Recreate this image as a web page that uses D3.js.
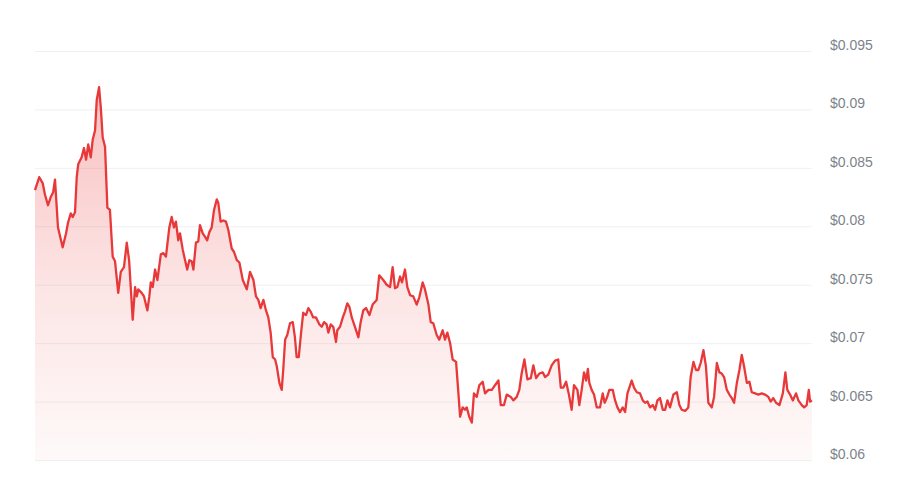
<!DOCTYPE html>
<html>
<head>
<meta charset="utf-8">
<script src="https://d3js.org/d3.v7.min.js"></script>
<style>
  body {
    margin: 0;
    background: #fff;
  }

  .grid line {
    stroke: #eff0f2;
  }

  .grid .domain {
    stroke: none;
  }

  .price-label {
    font-family: "Liberation Sans", Arial, sans-serif;
    font-size: 14px;
    fill: #7d838b;
  }
</style>
</head>
<body>
<script>
// price history (day of year, USD)
const days = [
  0.0, 2.0, 3.6, 4.7, 6.1, 7.4, 8.5, 9.4, 10.8, 13.0, 14.6, 15.5, 16.8, 17.7, 18.8, 19.6,
  20.3, 21.9, 23.0, 24.0, 25.0, 26.2, 27.1, 28.2, 29.0, 30.1, 30.9, 31.8, 32.9, 34.0, 35.2,
  36.5, 37.6, 39.1, 40.3, 41.8, 43.1, 44.2, 45.9, 47.0, 47.8, 48.5, 50.1, 51.2, 52.8, 53.7,
  54.4, 55.3, 56.4, 57.5, 59.1, 60.3, 61.5, 63.1, 64.2, 65.3, 66.2, 67.3, 68.1, 69.4, 70.5,
  71.5, 72.5, 73.6, 74.4, 75.6, 76.7, 77.5, 78.8, 79.9, 80.9, 81.9, 83.0, 84.1, 85.4, 86.1,
  87.2, 88.5, 89.7, 90.8, 92.4, 93.5, 94.8, 96.0, 97.6, 99.5, 101.0, 102.6, 103.8, 104.9,
  106.0, 107.3, 108.5, 109.6, 110.7, 111.7, 112.8, 113.6, 114.8, 115.9, 116.6, 117.5, 118.5,
  119.8, 121.1, 122.1, 122.9, 123.9, 125.0, 126.0, 127.3, 128.4, 129.5, 130.7, 132.0, 133.6,
  134.7, 135.8, 137.0, 137.8, 138.9, 140.1, 141.4, 142.0, 143.3, 144.6, 145.6, 146.7, 147.7,
  148.8, 150.3, 151.9, 153.0, 154.2, 155.5, 157.1, 158.6, 160.5, 161.7, 163.6, 165.2, 166.8,
  168.0, 169.1, 170.2, 171.5, 172.4, 173.8, 174.9, 176.2, 177.7, 179.3, 180.5, 182.1, 183.2,
  184.8, 185.9, 187.1, 188.7, 189.9, 191.5, 192.6, 193.7, 195.0, 196.2, 197.8, 198.9, 199.7,
  200.9, 202.0, 202.8, 204.0, 205.2, 206.2, 207.5, 208.7, 210.3, 211.4, 213.0, 214.6, 216.1,
  217.7, 218.8, 220.3, 221.6, 223.5, 224.7, 226.3, 227.5, 228.6, 229.9, 231.3, 232.9, 234.1,
  235.4, 236.9, 238.5, 239.6, 241.1, 242.7, 244.3, 245.8, 247.0, 248.2, 249.5, 250.7, 252.1,
  253.2, 254.8, 255.7, 256.8, 257.9, 258.9, 259.7, 260.4, 261.5, 262.6, 263.9, 265.4, 266.7,
  267.6, 268.6, 269.8, 271.4, 272.5, 273.6, 274.8, 276.1, 277.2, 278.3, 279.2, 280.3, 281.4,
  282.7, 284.2, 285.5, 286.6, 287.7, 288.9, 290.2, 291.3, 292.4, 293.6, 294.9, 296.0, 297.1,
  298.3, 299.9, 301.5, 302.7, 303.8, 305.4, 306.9, 308.0, 309.3, 310.5, 311.6, 312.7, 314.0,
  315.2, 316.3, 317.9, 319.0, 320.3, 321.5, 322.6, 323.7, 325.0, 326.2, 327.3, 328.4, 329.7,
  330.9, 332.0, 333.1, 334.4, 335.6, 336.7, 338.3, 339.8, 341.4, 342.9, 344.5, 345.6, 346.8,
  348.1, 349.7, 351.3, 352.5, 353.4, 354.7, 356.0, 357.5, 358.6, 360.2, 361.3, 362.5, 363.5,
  364.1, 365.0
];

const prices = [
  0.0831, 0.0842, 0.0837, 0.0827, 0.0818, 0.0825, 0.0829, 0.0840, 0.0799, 0.0782, 0.0794,
  0.0803, 0.0811, 0.0808, 0.0812, 0.0842, 0.0853, 0.0859, 0.0867, 0.0857, 0.0870, 0.0859,
  0.0874, 0.0882, 0.0908, 0.0919, 0.0902, 0.0876, 0.0868, 0.0816, 0.0814, 0.0774, 0.0770,
  0.0743, 0.0761, 0.0765, 0.0786, 0.0771, 0.0720, 0.0748, 0.0740, 0.0746, 0.0743, 0.0740,
  0.0728, 0.0740, 0.0752, 0.0748, 0.0763, 0.0754, 0.0776, 0.0777, 0.0774, 0.0799, 0.0808,
  0.0799, 0.0804, 0.0788, 0.0794, 0.0780, 0.0771, 0.0763, 0.0771, 0.0770, 0.0763, 0.0786,
  0.0787, 0.0801, 0.0794, 0.0791, 0.0788, 0.0795, 0.0799, 0.0814, 0.0823, 0.0820, 0.0804,
  0.0805, 0.0804, 0.0797, 0.0781, 0.0778, 0.0771, 0.0769, 0.0754, 0.0746, 0.0761, 0.0754,
  0.0740, 0.0737, 0.0730, 0.0737, 0.0728, 0.0722, 0.0709, 0.0688, 0.0686, 0.0680, 0.0666,
  0.0660, 0.0677, 0.0703, 0.0707, 0.0717, 0.0718, 0.0705, 0.0688, 0.0688, 0.0709, 0.0726,
  0.0724, 0.0730, 0.0727, 0.0722, 0.0722, 0.0716, 0.0714, 0.0718, 0.0716, 0.0709, 0.0716,
  0.0714, 0.0701, 0.0711, 0.0714, 0.0722, 0.0727, 0.0734, 0.0731, 0.0722, 0.0714, 0.0705,
  0.0718, 0.0728, 0.0730, 0.0724, 0.0733, 0.0737, 0.0758, 0.0754, 0.0750, 0.0748, 0.0765,
  0.0747, 0.0748, 0.0757, 0.0752, 0.0763, 0.0748, 0.0741, 0.0740, 0.0733, 0.0739, 0.0752,
  0.0746, 0.0733, 0.0718, 0.0717, 0.0707, 0.0703, 0.0711, 0.0703, 0.0709, 0.0700, 0.0686,
  0.0684, 0.0657, 0.0637, 0.0645, 0.0643, 0.0645, 0.0637, 0.0632, 0.0657, 0.0654, 0.0664,
  0.0667, 0.0657, 0.0660, 0.0660, 0.0664, 0.0668, 0.0647, 0.0647, 0.0656, 0.0654, 0.0651,
  0.0654, 0.0660, 0.0674, 0.0686, 0.0669, 0.0670, 0.0681, 0.0670, 0.0674, 0.0675, 0.0671,
  0.0673, 0.0681, 0.0685, 0.0686, 0.0662, 0.0662, 0.0667, 0.0657, 0.0643, 0.0664, 0.0660,
  0.0647, 0.0660, 0.0675, 0.0668, 0.0678, 0.0666, 0.0660, 0.0656, 0.0645, 0.0645, 0.0657,
  0.0649, 0.0653, 0.0660, 0.0660, 0.0651, 0.0645, 0.0641, 0.0645, 0.0641, 0.0657, 0.0662,
  0.0668, 0.0662, 0.0658, 0.0657, 0.0651, 0.0649, 0.0650, 0.0645, 0.0647, 0.0643, 0.0651,
  0.0653, 0.0643, 0.0643, 0.0651, 0.0645, 0.0656, 0.0658, 0.0647, 0.0643, 0.0642, 0.0645,
  0.0671, 0.0684, 0.0677, 0.0677, 0.0683, 0.0694, 0.0680, 0.0649, 0.0645, 0.0654, 0.0683,
  0.0675, 0.0674, 0.0671, 0.0660, 0.0656, 0.0653, 0.0649, 0.0666, 0.0677, 0.0690, 0.0680,
  0.0666, 0.0667, 0.0658, 0.0657, 0.0656, 0.0657, 0.0656, 0.0654, 0.0650, 0.0653, 0.0649,
  0.0647, 0.0657, 0.0675, 0.0660, 0.0656, 0.0651, 0.0657, 0.0651, 0.0647, 0.0645, 0.0647,
  0.0660, 0.0650, 0.0651
];

// axis ticks on the right
const priceTicks = [0.06, 0.065, 0.07, 0.075, 0.08, 0.085, 0.09, 0.095];
const tickLabels = ["$0.06", "$0.065", "$0.07", "$0.075", "$0.08", "$0.085", "$0.09", "$0.095"];

var width = 777,
    height = 409,
    margin = {top: 51, bottom: 27, left: 35, right: 88}

const data = days.map((d, i) => ({day: d, price: prices[i]}));

const svg = d3.select("body").append("svg")
    .attr("width", width + margin.left + margin.right)
    .attr("height", height + margin.top + margin.bottom)
  .append("g")
    .attr("transform", `translate(${margin.left},${margin.top})`)

const xScale = d3.scaleLinear()
    .domain([0, 365])
    .range([0, width])

const yScale = d3.scaleLinear()
    .domain([0.06, 0.095])
    .range([height, 0])

// gradient under the line
const grad = svg.append("defs").append("linearGradient")
    .attr("id", "fade")
    .attr("gradientUnits", "userSpaceOnUse")
    .attr("x1", 0).attr("x2", 0)
    .attr("y1", yScale(0.092)).attr("y2", yScale(0.06))
grad.append("stop").attr("offset", 0).attr("stop-color", "#ea3a3a").attr("stop-opacity", 0.32)
grad.append("stop").attr("offset", 0.55).attr("stop-color", "#ea3a3a").attr("stop-opacity", 0.13)
grad.append("stop").attr("offset", 1).attr("stop-color", "#ea3a3a").attr("stop-opacity", 0.03)

// horizontal grid
svg.append("g")
    .attr("class", "grid")
    .call(d3.axisLeft(yScale).tickValues(priceTicks).tickSize(-width).tickFormat(""))
    .selectAll("text").remove();

// labels on the right side
svg.append("g")
  .selectAll("text")
  .data(priceTicks)
  .enter().append("text")
    .attr("class", "price-label")
    .attr("x", width + 18)
    .attr("y", d => yScale(d) - 1)
    .text((d, i) => tickLabels[i])

const area = d3.area()
    .x(d => xScale(d.day))
    .y0(yScale(0.06))
    .y1(d => yScale(d.price))

const line = d3.line()
    .x(d => xScale(d.day))
    .y(d => yScale(d.price))

svg.append("path")
    .datum(data)
    .attr("d", area)
    .attr("fill", "url(#fade)")

svg.append("path")
    .datum(data)
    .attr("d", line)
    .attr("fill", "none")
    .attr("stroke", "#e8393a")
    .attr("stroke-width", 2.3)
    .attr("stroke-linejoin", "round")
</script>
</body>
</html>
